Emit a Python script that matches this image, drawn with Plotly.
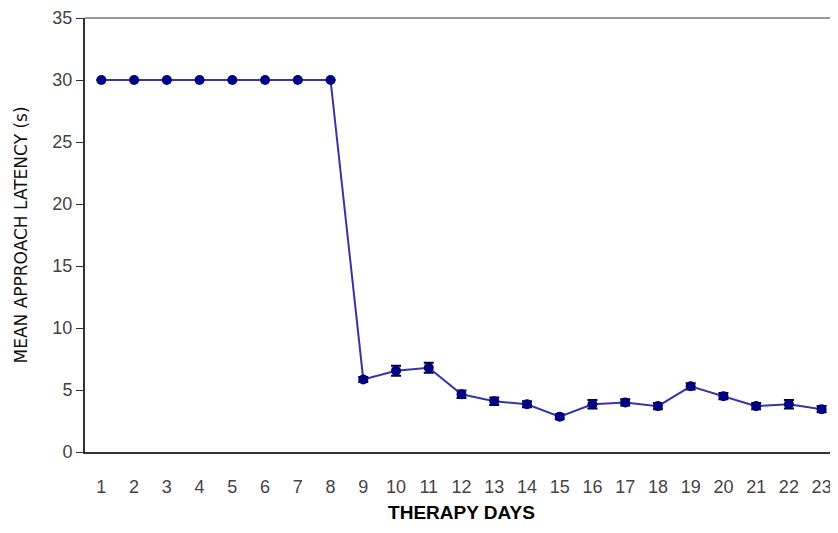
import plotly.graph_objects as go

days = list(range(1, 24))
latency = [30, 30, 30, 30, 30, 30, 30, 30,
           5.85, 6.55, 6.8, 4.65, 4.1, 3.85, 2.85, 3.85, 4.0, 3.7, 5.3, 4.5, 3.7, 3.85, 3.45]
err = [0, 0, 0, 0, 0, 0, 0, 0,
       0.2, 0.4, 0.4, 0.3, 0.3, 0.25, 0.2, 0.35, 0.25, 0.25, 0.25, 0.25, 0.25, 0.35, 0.25]
y_ticks = [0, 5, 10, 15, 20, 25, 30, 35]

fig = go.Figure()
fig.add_trace(go.Scatter(
    x=days, y=latency,
    mode="lines+markers",
    line=dict(color="#3535A5", width=2),
    marker=dict(color="#000080", size=10, symbol="circle"),
    error_y=dict(type="data", array=err, visible=True, color="#000030",
                 thickness=2, width=5),
    showlegend=False,
))

tick_font = dict(family="Liberation Sans, Arial, sans-serif", size=18, color="#444444")

# page body has an 8px margin; figure sized so the plot area sits where the reference's does
fig.update_layout(
    width=830, height=525,
    margin=dict(l=77, r=0, t=8, b=81),
    paper_bgcolor="white", plot_bgcolor="white",
    xaxis=dict(
        range=[0.5, 23.5], tickmode="array", tickvals=days,
        ticktext=[str(d) for d in days],
        showgrid=False, zeroline=False,
        showline=True, linecolor="#333333", linewidth=2,
        ticks="outside", ticklen=17, tickcolor="rgba(255,255,255,0)",
        ticklabeloverflow="allow",
        tickfont=tick_font,
        title=dict(text="<b>THERAPY DAYS</b>",
                   font=dict(family="Liberation Sans, Arial, sans-serif", size=19, color="#000000"),
                   standoff=10),
    ),
    yaxis=dict(
        range=[0, 35], tickmode="array", tickvals=y_ticks,
        showgrid=False, zeroline=False,
        showline=True, linecolor="#333333", linewidth=2,
        ticks="outside", ticklen=7, tickcolor="#333333", tickwidth=1,
        ticklabeloverflow="allow",
        tickfont=tick_font,
        title=dict(text="MEAN APPROACH LATENCY (s)",
                   font=dict(family="DejaVu Sans, sans-serif", size=17, color="#111111"),
                   standoff=20),
    ),
    shapes=[dict(type="line", xref="paper", yref="paper", x0=0, x1=1, y0=1, y1=1,
                 line=dict(color="#999999", width=2))],
)

fig.write_html("out.html")
